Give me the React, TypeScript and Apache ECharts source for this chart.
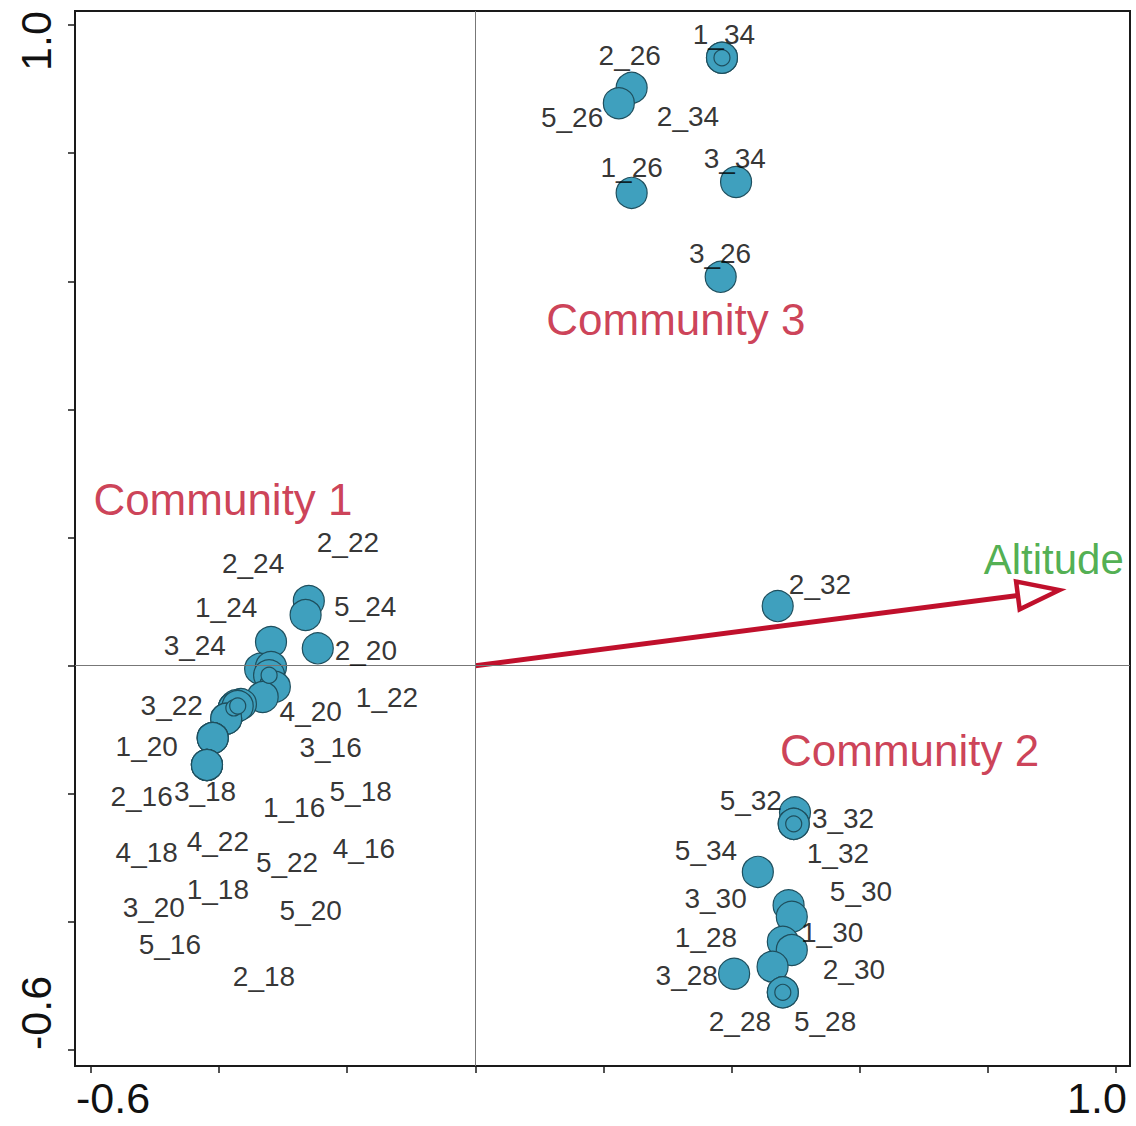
import React, { useEffect, useRef } from "react";
import * as echarts from "echarts";

// Site scores (CCA biplot), name / axis-1 / axis-2
const sites = [
  "5_24", "2_22", "2_20", "3_24", "1_24", "2_24", "1_22", "4_20", "3_16", "5_18",
  "3_22", "4_22", "5_22", "1_16", "4_16", "1_20", "5_20", "2_16", "4_18", "3_20",
  "3_18", "1_18", "5_16", "2_18",
  "1_34", "2_34", "2_26", "5_26", "1_26", "3_34", "3_26",
  "2_32",
  "5_32", "3_32", "1_32", "5_34", "3_30", "5_30", "1_28", "1_30", "2_30", "3_28", "2_28", "5_28",
];
const siteX = [
  -0.260, -0.265, -0.246, -0.319, -0.336, -0.319, -0.322, -0.313, -0.332, -0.366,
  -0.377, -0.377, -0.374, -0.377, -0.371, -0.389, -0.389, -0.410, -0.410, -0.410,
  -0.419, -0.419, -0.419, -0.419,
  0.385, 0.385, 0.244, 0.224, 0.244, 0.407, 0.383,
  0.472,
  0.499, 0.497, 0.497, 0.441, 0.489, 0.494, 0.480, 0.494, 0.464, 0.404, 0.480, 0.480,
];
const siteY = [
  0.101, 0.079, 0.027, 0.037, -0.005, -0.002, -0.015, -0.033, -0.049, -0.060,
  -0.066, -0.066, -0.062, -0.066, -0.063, -0.083, -0.083, -0.113, -0.113, -0.113,
  -0.155, -0.155, -0.155, -0.155,
  0.949, 0.949, 0.902, 0.878, 0.738, 0.755, 0.607,
  0.093,
  -0.229, -0.247, -0.247, -0.322, -0.374, -0.392, -0.431, -0.444, -0.470, -0.481, -0.510, -0.510,
];
// Where each site's name is written
const labelX = [
  -0.172, -0.199, -0.171, -0.438, -0.389, -0.347, -0.138, -0.257, -0.226, -0.179,
  -0.474, -0.402, -0.294, -0.283, -0.174, -0.513, -0.257, -0.521, -0.513, -0.502,
  -0.422, -0.402, -0.477, -0.330,
  0.388, 0.332, 0.241, 0.151, 0.244, 0.405, 0.382,
  0.538,
  0.430, 0.574, 0.566, 0.360, 0.375, 0.602, 0.360, 0.557, 0.591, 0.330, 0.413, 0.546,
];
const labelY = [
  0.093, 0.193, 0.024, 0.032, 0.091, 0.160, -0.049, -0.072, -0.127, -0.197,
  -0.062, -0.275, -0.308, -0.222, -0.285, -0.126, -0.383, -0.204, -0.291, -0.377,
  -0.197, -0.349, -0.435, -0.485,
  0.986, 0.858, 0.953, 0.855, 0.777, 0.792, 0.644,
  0.127,
  -0.210, -0.238, -0.293, -0.289, -0.363, -0.353, -0.424, -0.416, -0.474, -0.483, -0.555, -0.556,
];
// Sites stacked on another site (marked with an inner ring)
const stackedSites = ["2_34", "1_32", "5_28", "1_22", "3_22", "4_16"];

// Community names and where they are written
const communities = ["Community 1", "Community 3", "Community 2"];
const communityX = [-0.394, 0.313, 0.678];
const communityY = [0.259, 0.54, -0.133];

// Environmental vector
const envName = "Altitude";
const envVector = [0.912, 0.118];
const envLabel = [0.903, 0.166];

// Axes
const axisMin = -0.625;
const axisMax = 1.022;
const tickValues = [-0.6, -0.4, -0.2, 0, 0.2, 0.4, 0.6, 0.8, 1.0];
const tickLabelValues = [-0.6, 1.0];

const FONT = "'Liberation Sans', Arial, Helvetica, sans-serif";
const POINT_FILL = "#3FA0BE";
const POINT_STROKE = "#1E4F5E";
const RED = "#C0102C";
const GREEN = "#259A25";

export default function App() {
  const ref = useRef<HTMLDivElement>(null);

  useEffect(() => {
    if (!ref.current) return;
    const chart = echarts.init(ref.current, null, { renderer: "svg" });

    const points = sites.map((n, i) => ({ name: n, value: [siteX[i], siteY[i]] }));
    const rings = points.filter((p) => stackedSites.includes(p.name));
    const labels = sites.map((n, i) => ({ name: n, value: [labelX[i], labelY[i]] }));
    const commData = communities.map((n, i) => ({ name: n, value: [communityX[i], communityY[i]] }));

    const axisLabelFont = { fontSize: 43, lineHeight: 30, fontFamily: FONT, color: "#111" };

    chart.setOption({
      animation: false,
      backgroundColor: "#fff",
      grid: {
        left: 75,
        right: 6,
        top: 11,
        bottom: 60,
        containLabel: false,
        outerBoundsMode: "none",
        show: true,
        borderColor: "#1a1a1a",
        borderWidth: 2,
        backgroundColor: "transparent",
      },
      xAxis: {
        type: "value",
        min: axisMin,
        max: axisMax,
        axisLine: { show: false, onZero: false },
        splitLine: { show: false },
        axisTick: {
          show: true,
          customValues: tickValues,
          length: 7,
          lineStyle: { color: "#1a1a1a", width: 1.5 },
        },
        axisLabel: {
          show: true,
          customValues: tickLabelValues,
          margin: 17,
          formatter: (v: number) => (v < 0 ? `{l|${v.toFixed(1)}}` : `{r|${v.toFixed(1)}}`),
          rich: {
            l: { ...axisLabelFont, padding: [0, 0, 0, 44] },
            r: { ...axisLabelFont, padding: [0, 38, 0, 0] },
          },
        },
      },
      yAxis: {
        type: "value",
        min: axisMin,
        max: axisMax,
        axisLine: { show: false, onZero: false },
        splitLine: { show: false },
        axisTick: {
          show: true,
          customValues: tickValues,
          length: 7,
          lineStyle: { color: "#1a1a1a", width: 1.5 },
        },
        axisLabel: {
          show: true,
          customValues: tickLabelValues,
          rotate: 90,
          margin: 24,
          formatter: (v: number) => (v < 0 ? `{b|${v.toFixed(1)}}` : `{t|${v.toFixed(1)}}`),
          rich: {
            b: { ...axisLabelFont, padding: [0, 0, 0, 74] },
            t: { ...axisLabelFont, padding: [0, 32, 0, 0] },
          },
        },
      },
      series: [
        {
          // zero reference lines
          type: "line",
          data: [],
          z: 1,
          silent: true,
          markLine: {
            silent: true,
            symbol: ["none", "none"],
            label: { show: false },
            lineStyle: { color: "#777", width: 1, type: "solid" },
            data: [{ xAxis: 0 }, { yAxis: 0 }],
          },
        },
        {
          // environmental arrow with hollow head
          type: "custom",
          z: 2,
          silent: true,
          data: [[0, 0, envVector[0], envVector[1]]],
          renderItem: (_params: any, api: any) => {
            const p0 = api.coord([api.value(0), api.value(1)]);
            const p1 = api.coord([api.value(2), api.value(3)]);
            const dx = p1[0] - p0[0];
            const dy = p1[1] - p0[1];
            const len = Math.hypot(dx, dy);
            const ux = dx / len;
            const uy = dy / len;
            const nx = -uy;
            const ny = ux;
            const headLen = 42;
            const headHalf = 14;
            const bx = p1[0] - ux * headLen;
            const by = p1[1] - uy * headLen;
            return {
              type: "group",
              children: [
                {
                  type: "line",
                  shape: { x1: p0[0], y1: p0[1], x2: bx, y2: by },
                  style: { stroke: RED, lineWidth: 5 },
                },
                {
                  type: "polygon",
                  shape: {
                    points: [
                      [p1[0], p1[1]],
                      [bx + nx * headHalf, by + ny * headHalf],
                      [bx - nx * headHalf, by - ny * headHalf],
                    ],
                  },
                  style: { fill: "#fff", stroke: RED, lineWidth: 4.5, lineJoin: "miter" },
                },
              ],
            };
          },
        },
        {
          type: "scatter",
          name: "sites",
          z: 3,
          data: points,
          symbol: "circle",
          symbolSize: 31,
          itemStyle: { color: POINT_FILL, borderColor: POINT_STROKE, borderWidth: 1.2, opacity: 1 },
          emphasis: { disabled: true },
        },
        {
          type: "scatter",
          name: "stacked",
          z: 4,
          data: rings,
          symbol: "circle",
          symbolSize: 16,
          itemStyle: { color: POINT_FILL, borderColor: POINT_STROKE, borderWidth: 1.2, opacity: 1 },
          emphasis: { disabled: true },
        },
        {
          type: "scatter",
          name: "site names",
          z: 5,
          data: labels,
          symbolSize: 1,
          itemStyle: { color: "rgba(0,0,0,0)" },
          emphasis: { disabled: true },
          label: {
            show: true,
            position: "inside",
            formatter: "{b}",
            fontSize: 28,
            fontFamily: FONT,
            color: "#000",
          },
        },
        {
          type: "scatter",
          name: "communities",
          z: 5,
          data: commData,
          symbolSize: 1,
          itemStyle: { color: "rgba(0,0,0,0)" },
          emphasis: { disabled: true },
          label: {
            show: true,
            position: "inside",
            formatter: "{b}",
            fontSize: 44,
            fontFamily: FONT,
            color: RED,
          },
        },
        {
          type: "scatter",
          name: "variable",
          z: 5,
          data: [{ name: envName, value: envLabel }],
          symbolSize: 1,
          itemStyle: { color: "rgba(0,0,0,0)" },
          emphasis: { disabled: true },
          label: {
            show: true,
            position: "inside",
            formatter: "{b}",
            fontSize: 42,
            fontFamily: FONT,
            color: GREEN,
          },
        },
      ],
    });

    return () => chart.dispose();
  }, []);

  return (
    <div
      ref={ref}
      style={{ position: "absolute", left: 0, top: 0, width: 1136, height: 1126, background: "#fff" }}
    />
  );
}
